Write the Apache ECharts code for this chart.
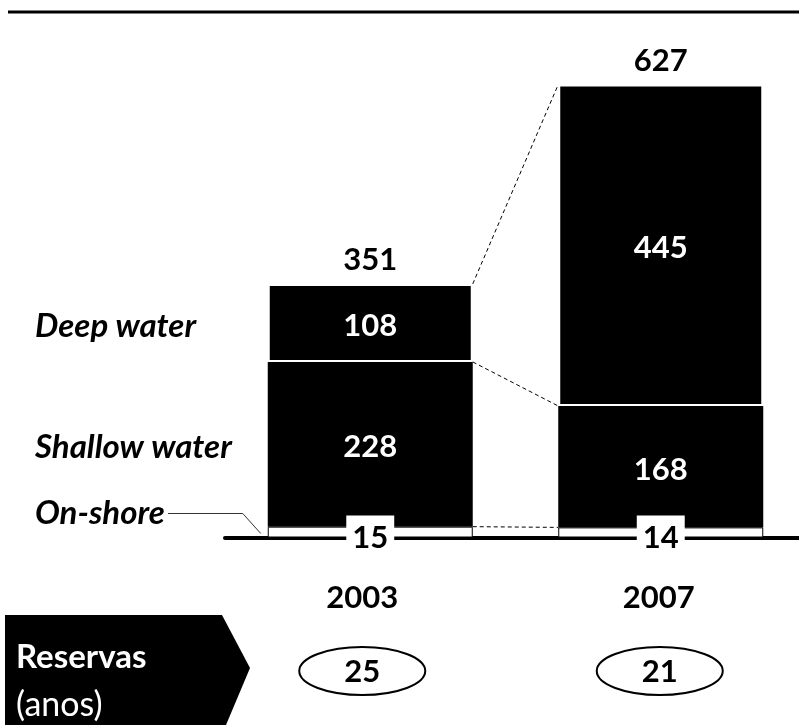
<!DOCTYPE html>
<html>
<head>
<meta charset="utf-8">
<script src="https://cdn.jsdelivr.net/npm/echarts@6/dist/echarts.min.js"></script>
<style>
  html, body { margin: 0; padding: 0; background: #fff; }
  #chart { width: 799px; height: 725px; }
</style>
</head>
<body>
<div id="chart"></div>
<script>
// Reserves by water depth, two snapshot years
const categories = ['2003', '2007'];
const onShore = [15, 14];
const shallowWater = [228, 168];
const deepWater = [108, 445];
const reserveYears = [25, 21];
const segmentNames = ['On-shore', 'Shallow water', 'Deep water'];
const reserveTitle = 'Reservas';
const reserveUnit = '(anos)';

const totals = categories.map((_, i) => onShore[i] + shallowWater[i] + deepWater[i]);

const FONT = 'Lato';
const FS = 31;
const NAME_FS = 33;
const BAR_W = 205;

const chart = echarts.init(document.getElementById('chart'), null, { renderer: 'canvas' });

const numLabel = (color) => ({
  show: true,
  color: color,
  fontFamily: FONT,
  fontWeight: 'bold',
  fontSize: FS
});

chart.setOption({
  animation: false,
  backgroundColor: '#fff',
  grid: { left: 225, width: 581, top: 31.75, bottom: 187.5, outerBoundsMode: 'none', containLabel: false },
  xAxis: {
    type: 'category',
    data: categories,
    axisLine: { lineStyle: { color: '#000', width: 4 } },
    axisTick: { show: false },
    axisLabel: {
      color: '#000', fontFamily: FONT, fontWeight: 'bold', fontSize: FS, margin: 45,
      // first year sits a little left of its column
      formatter: (v, i) => (i === 0 ? '{a|' + v + '}' : '{b|' + v + '}'),
      rich: {
        a: { color: '#000', fontFamily: FONT, fontWeight: 'bold', fontSize: FS, padding: [0, 16, 0, 0] },
        b: { color: '#000', fontFamily: FONT, fontWeight: 'bold', fontSize: FS, padding: [0, 4, 0, 0] }
      }
    }
  },
  yAxis: { type: 'value', min: 0, max: 700, show: false, splitLine: { show: false } },
  series: [
    {
      // invisible column carrying the total above each stack
      name: 'Total',
      type: 'bar',
      data: totals,
      barWidth: BAR_W,
      barGap: '-100%',
      silent: true,
      z: 1,
      itemStyle: { color: 'rgba(0,0,0,0)' },
      label: Object.assign(numLabel('#000'), { position: 'top', distance: 8 })
    },
    {
      name: segmentNames[0],
      type: 'bar',
      stack: 'res',
      data: onShore,
      barWidth: BAR_W,
      barGap: '-100%',
      z: 3,
      itemStyle: { color: '#fff', borderColor: '#000', borderWidth: 1 },
      label: Object.assign(numLabel('#000'), {
        position: ['50%', '100%'],
        align: 'center',
        verticalAlign: 'middle',
        backgroundColor: '#fff',
        padding: [10, 6, 3, 6]
      })
    },
    {
      name: segmentNames[1],
      type: 'bar',
      stack: 'res',
      data: shallowWater,
      barWidth: BAR_W,
      barGap: '-100%',
      z: 2,
      itemStyle: { color: '#000' },
      label: Object.assign(numLabel('#fff'), { position: 'inside', offset: [0, 3] })
    },
    {
      name: segmentNames[2],
      type: 'bar',
      stack: 'res',
      data: deepWater,
      barWidth: BAR_W,
      barGap: '-100%',
      z: 2,
      itemStyle: { color: '#000', borderColor: '#fff', borderWidth: 2 },
      label: Object.assign(numLabel('#fff'), { position: 'inside', offset: [0, 3] })
    }
  ]
});

// pixel helpers from the chart's own scales
const px = (i, v) => chart.convertToPixel({ gridIndex: 0 }, [categories[i], v]);
const half = BAR_W / 2;
const levels = categories.map((_, i) => [onShore[i], onShore[i] + shallowWater[i], totals[i]]);

const graphics = [];

// rule across the top
graphics.push({
  type: 'line',
  shape: { x1: 8, y1: 12, x2: 799, y2: 12 },
  style: { stroke: '#000', lineWidth: 3 }
});

// dashed connectors between matching segment edges
levels[0].forEach((v, k) => {
  const a = px(0, v), b = px(1, levels[1][k]);
  graphics.push({
    type: 'line',
    shape: { x1: a[0] + half, y1: a[1], x2: b[0] - half, y2: b[1] },
    style: { stroke: '#000', lineWidth: 1, lineDash: [4, 3] },
    z: 5
  });
});

// segment names beside the first stack
const base = px(0, 0);
const nameFont = 'italic bold ' + NAME_FS + 'px ' + FONT;
const midDeep = px(0, (levels[0][1] + levels[0][2]) / 2)[1] + 3;
const midShallow = px(0, (levels[0][0] + levels[0][1]) / 2)[1] + 3;
const onShoreY = base[1] - 24;
[[segmentNames[2], midDeep], [segmentNames[1], midShallow], [segmentNames[0], onShoreY]].forEach(([t, y]) => {
  graphics.push({
    type: 'text',
    style: { text: t, x: 35, y: y, fill: '#000', font: nameFont,
             textAlign: 'left', textVerticalAlign: 'middle', align: 'left', verticalAlign: 'middle' }
  });
});
graphics.push({
  type: 'polyline',
  shape: { points: [[168, onShoreY], [base[0] - half - 25, onShoreY], [base[0] - half - 7, base[1] - 4]] },
  style: { stroke: '#333', lineWidth: 1, fill: null }
});

// reserves strip at the bottom
graphics.push({
  type: 'polygon',
  shape: { points: [[5, 615], [222, 615], [250, 668], [226, 725], [5, 725]] },
  style: { fill: '#000' }
});
graphics.push({
  type: 'text',
  style: { text: reserveTitle, x: 16, y: 657, fill: '#fff', font: 'bold 33px ' + FONT,
           textAlign: 'left', textVerticalAlign: 'middle', align: 'left', verticalAlign: 'middle' }
});
graphics.push({
  type: 'text',
  style: { text: reserveUnit, x: 16, y: 705, fill: '#fff', font: '34px ' + FONT,
           textAlign: 'left', textVerticalAlign: 'middle', align: 'left', verticalAlign: 'middle' }
});
const ovalShift = [-8, -1];
reserveYears.forEach((r, i) => {
  const cx = px(i, 0)[0] + ovalShift[i];
  graphics.push({
    type: 'ellipse',
    shape: { cx: cx, cy: 671, rx: 63, ry: 24 },
    style: { fill: '#fff', stroke: '#000', lineWidth: 2 }
  });
  graphics.push({
    type: 'text',
    style: { text: String(r), x: cx, y: 672, fill: '#000', font: 'bold ' + FS + 'px ' + FONT,
             textAlign: 'center', textVerticalAlign: 'middle', align: 'center', verticalAlign: 'middle' }
  });
});

chart.setOption({ graphic: graphics });
</script>
</body>
</html>
